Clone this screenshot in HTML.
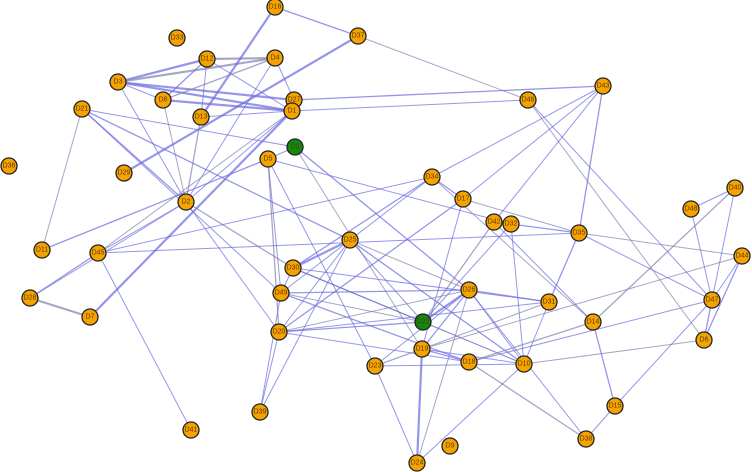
<!DOCTYPE html>
<html><head><meta charset="utf-8"><style>
html,body{margin:0;padding:0;background:#fff;width:752px;height:472px;overflow:hidden}
svg{display:block}
text{font-family:"Liberation Sans",sans-serif;font-size:7px;fill:#5a3a00;text-anchor:middle;dominant-baseline:central}
circle{stroke:#222;stroke-width:1.3}
</style></head><body>
<svg id="g" width="752" height="472" viewBox="0 0 752 472">
<g id="edges"></g>
<g id="nodes">
<circle cx="275" cy="7" r="8" fill="#f5a300"/><text x="275" y="7">D16</text>
<circle cx="358" cy="36" r="8" fill="#f5a300"/><text x="358" y="36">D37</text>
<circle cx="177" cy="38" r="8" fill="#f5a300"/><text x="177" y="38">D33</text>
<circle cx="207" cy="59" r="8" fill="#f5a300"/><text x="207" y="59">D12</text>
<circle cx="275" cy="58" r="8" fill="#f5a300"/><text x="275" y="58">D4</text>
<circle cx="118" cy="82" r="8" fill="#f5a300"/><text x="118" y="82">D3</text>
<circle cx="163" cy="100" r="8" fill="#f5a300"/><text x="163" y="100">D8</text>
<circle cx="294" cy="100" r="8" fill="#f5a300"/><text x="294" y="100">D27</text>
<circle cx="292" cy="111" r="8" fill="#f5a300"/><text x="292" y="111">D1</text>
<circle cx="201" cy="117" r="8" fill="#f5a300"/><text x="201" y="117">D13</text>
<circle cx="82" cy="109" r="8" fill="#f5a300"/><text x="82" y="109">D21</text>
<circle cx="295" cy="147" r="8" fill="#118811"/><text x="295" y="147">D0</text>
<circle cx="268" cy="159" r="8" fill="#f5a300"/><text x="268" y="159">D5</text>
<circle cx="9" cy="166" r="8" fill="#f5a300"/><text x="9" y="166">D36</text>
<circle cx="124" cy="173" r="8" fill="#f5a300"/><text x="124" y="173">D29</text>
<circle cx="186" cy="202" r="8" fill="#f5a300"/><text x="186" y="202">D2</text>
<circle cx="528" cy="100" r="8" fill="#f5a300"/><text x="528" y="100">D46</text>
<circle cx="603" cy="86" r="8" fill="#f5a300"/><text x="603" y="86">D43</text>
<circle cx="432" cy="177" r="8" fill="#f5a300"/><text x="432" y="177">D34</text>
<circle cx="463" cy="199" r="8" fill="#f5a300"/><text x="463" y="199">D17</text>
<circle cx="494" cy="222" r="8" fill="#f5a300"/><text x="494" y="222">D42</text>
<circle cx="511" cy="224" r="8" fill="#f5a300"/><text x="511" y="224">D32</text>
<circle cx="579" cy="233" r="8" fill="#f5a300"/><text x="579" y="233">D35</text>
<circle cx="735" cy="188" r="8" fill="#f5a300"/><text x="735" y="188">D40</text>
<circle cx="691" cy="209" r="8" fill="#f5a300"/><text x="691" y="209">D48</text>
<circle cx="742" cy="256" r="8" fill="#f5a300"/><text x="742" y="256">D44</text>
<circle cx="712" cy="300" r="8" fill="#f5a300"/><text x="712" y="300">D47</text>
<circle cx="704" cy="340" r="8" fill="#f5a300"/><text x="704" y="340">D6</text>
<circle cx="593" cy="322" r="8" fill="#f5a300"/><text x="593" y="322">D14</text>
<circle cx="615" cy="406" r="8" fill="#f5a300"/><text x="615" y="406">D15</text>
<circle cx="586" cy="439" r="8" fill="#f5a300"/><text x="586" y="439">D38</text>
<circle cx="450" cy="446" r="8" fill="#f5a300"/><text x="450" y="446">D9</text>
<circle cx="417" cy="463" r="8" fill="#f5a300"/><text x="417" y="463">D24</text>
<circle cx="422" cy="349" r="8" fill="#f5a300"/><text x="422" y="349">D19</text>
<circle cx="423" cy="322" r="8" fill="#118811"/><text x="423" y="322">D22</text>
<circle cx="469" cy="290" r="8" fill="#f5a300"/><text x="469" y="290">D26</text>
<circle cx="549" cy="302" r="8" fill="#f5a300"/><text x="549" y="302">D31</text>
<circle cx="469" cy="362" r="8" fill="#f5a300"/><text x="469" y="362">D18</text>
<circle cx="524" cy="364" r="8" fill="#f5a300"/><text x="524" y="364">D10</text>
<circle cx="375" cy="366" r="8" fill="#f5a300"/><text x="375" y="366">D23</text>
<circle cx="350" cy="240" r="8" fill="#f5a300"/><text x="350" y="240">D25</text>
<circle cx="293" cy="268" r="8" fill="#f5a300"/><text x="293" y="268">D30</text>
<circle cx="281" cy="293" r="8" fill="#f5a300"/><text x="281" y="293">D49</text>
<circle cx="279" cy="332" r="8" fill="#f5a300"/><text x="279" y="332">D20</text>
<circle cx="260" cy="412" r="8" fill="#f5a300"/><text x="260" y="412">D39</text>
<circle cx="191" cy="430" r="8" fill="#f5a300"/><text x="191" y="430">D41</text>
<circle cx="42" cy="250" r="8" fill="#f5a300"/><text x="42" y="250">D11</text>
<circle cx="98" cy="253" r="8" fill="#f5a300"/><text x="98" y="253">D45</text>
<circle cx="30" cy="298" r="8" fill="#f5a300"/><text x="30" y="298">D28</text>
<circle cx="90" cy="317" r="8" fill="#f5a300"/><text x="90" y="317">D7</text>
</g>
</svg>
<script>
var P={D16:[275,7],D37:[358,36],D33:[177,38],D12:[207,59],D4:[275,58],D3:[118,82],D8:[163,100],D27:[294,100],D1:[292,111],D13:[201,117],D21:[82,109],D0:[295,147],D5:[268,159],D29:[124,173],D2:[186,202],D46:[528,100],D43:[603,86],D34:[432,177],D17:[463,199],D42:[494,222],D32:[511,224],D35:[579,233],D40:[735,188],D48:[691,209],D44:[742,256],D47:[712,300],D6:[704,340],D14:[593,322],D15:[615,406],D38:[586,439],D24:[417,463],D19:[422,349],D22:[423,322],D26:[469,290],D31:[549,302],D18:[469,362],D10:[524,364],D23:[375,366],D25:[350,240],D30:[293,268],D49:[281,293],D20:[279,332],D39:[260,412],D41:[191,430],D11:[42,250],D45:[98,253],D28:[30,298],D7:[90,317]};
var E="D3-D12 D3-D4 D3-D27 D3-D1 D3-D8 D12-D4 D12-D8 D12-D1 D12-D13 D4-D8 D4-D27 D4-D2 D8-D1 D8-D2 D16-D13 D16-D37 D37-D29 D37-D46 D27-D43 D1-D46 D13-D1 D13-D2 D3-D2 D21-D0 D21-D2 D21-D11 D21-D49 D21-D25 D1-D2 D1-D45 D1-D7 D2-D45 D2-D28 D2-D30 D2-D20 D45-D41 D45-D28 D28-D7 D45-D34 D11-D5 D0-D5 D0-D19 D0-D26 D5-D32 D5-D49 D5-D20 D5-D23 D34-D43 D34-D17 D34-D14 D34-D49 D34-D30 D17-D43 D17-D35 D17-D20 D17-D19 D42-D43 D42-D22 D32-D10 D32-D22 D32-D35 D35-D44 D35-D47 D35-D31 D46-D47 D46-D6 D43-D35 D40-D48 D40-D47 D40-D14 D48-D47 D44-D47 D44-D6 D44-D19 D47-D18 D47-D6 D47-D15 D6-D10 D14-D15 D14-D42 D15-D38 D38-D18 D38-D26 D24-D10 D24-D19 D24-D26 D24-D23 D25-D30 D25-D22 D25-D26 D25-D10 D25-D20 D25-D39 D30-D22 D30-D31 D30-D10 D49-D26 D49-D22 D49-D39 D49-D18 D20-D31 D20-D26 D20-D22 D20-D18 D20-D39 D23-D19 D23-D10 D23-D26 D19-D26 D19-D31 D19-D10 D19-D18 D22-D26 D22-D10 D26-D31 D26-D10 D31-D10 D18-D14 D49-D30 D45-D35".split(" ");
var thick={"D3-D12":1,"D3-D4":1,"D3-D1":1,"D12-D4":1,"D8-D1":1,"D37-D29":1,"D16-D13":1,"D28-D7":1,"D1-D7":1,"D25-D30":1,"D25-D49":1,"D22-D26":1,"D24-D19":1,"D3-D27":1};
var g=document.getElementById("edges"),s="";
E.forEach(function(e,i){var a=e.split("-"),p=P[a[0]],q=P[a[1]];if(!p||!q)return;
var w=thick[e]?2.2:(i%3==0?1.3:1);var c=i%4==1?"#8080b0":"#6a6ae0";
s+='<line x1="'+p[0]+'" y1="'+p[1]+'" x2="'+q[0]+'" y2="'+q[1]+'" stroke="'+c+'" stroke-opacity="0.7" stroke-width="'+w+'"/>';});
g.innerHTML=s;
</script>
</body></html>
